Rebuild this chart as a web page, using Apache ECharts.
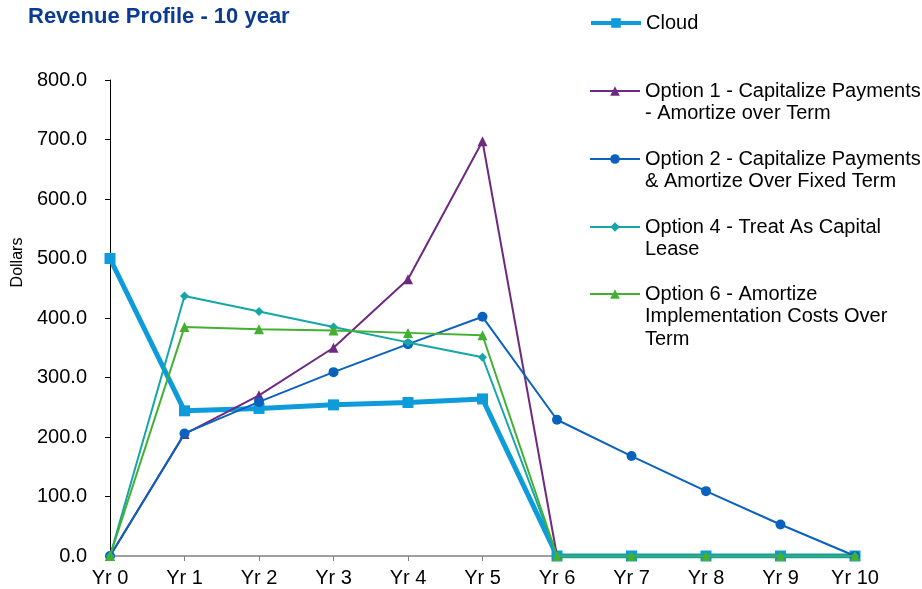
<!DOCTYPE html>
<html>
<head>
<meta charset="utf-8">
<title>Revenue Profile - 10 year</title>
<script src="https://cdn.jsdelivr.net/npm/echarts@6/dist/echarts.min.js"></script>
<style>
  html, body { margin: 0; padding: 0; background: #fff; }
  #chart { width: 922px; height: 589px; }
</style>
</head>
<body>
<div id="chart"></div>
<script>
// Years on the horizontal axis
const categories = ['Yr 0', 'Yr 1', 'Yr 2', 'Yr 3', 'Yr 4', 'Yr 5', 'Yr 6', 'Yr 7', 'Yr 8', 'Yr 9', 'Yr 10'];

// Revenue per year (dollars) for each accounting treatment
const cloud   = [500, 244, 248, 254, 258, 264, 0, 0, 0, 0, 0];
const option1 = [0, 205, 270, 350, 465, 697, 0, 0, 0, 0, 0];
const option2 = [0, 206, 259, 309, 356, 402, 229, 168, 109, 53, 0];
const option4 = [0, 437, 411, 385, 359, 334, 0, 0, 0, 0, 0];
const option6 = [0, 385, 381, 379, 375, 371, 0, 0, 0, 0, 0];

// Series names as shown in the legend (line breaks wrap the long ones)
const seriesNames = [
  'Cloud',
  'Option 1 - Capitalize Payments\n- Amortize over Term',
  'Option 2 - Capitalize Payments\n& Amortize Over Fixed Term',
  'Option 4 - Treat As Capital\nLease',
  'Option 6 - Amortize\nImplementation Costs Over\nTerm'
];

const FONT = 'Liberation Sans, Arial, sans-serif';
const LINE_H = 22.5;

const styles = [
  { color: '#0E9BDA', width: 5, legendWidth: 4, symbol: 'rect',     size: 11 },
  { color: '#6E2A80', width: 2, legendWidth: 2, symbol: 'triangle', size: 10 },
  { color: '#0A62BE', width: 2, legendWidth: 2, symbol: 'circle',   size: 10 },
  { color: '#14A6A8', width: 2, legendWidth: 2, symbol: 'diamond',  size: 9 },
  { color: '#44B032', width: 2, legendWidth: 2, symbol: 'triangle', size: 10 }
];
const values = [cloud, option1, option2, option4, option6];

// One legend block per series; the icon lines up with the first text line.
// Blank lines above keep the first line in the middle of the text block.
const legendIconCenters = [23, 91, 159, 227, 294];
const legends = seriesNames.map((name, i) => {
  const lines = name.split('\n').length;
  const label = '\n'.repeat(lines - 1) + name;
  const boxH = (2 * lines - 1) * LINE_H;
  return {
    data: [{ name: name, lineStyle: { width: styles[i].legendWidth } }],
    formatter: () => label,
    left: 589,
    top: legendIconCenters[i] - boxH / 2,
    padding: 0,
    itemWidth: 50,
    itemHeight: 12,
    itemGap: 0,
    selectedMode: false,
    textStyle: {
      fontFamily: FONT,
      fontSize: 20,
      color: '#000',
      lineHeight: LINE_H
    }
  };
});

const series = seriesNames.map((name, i) => ({
  name: name,
  type: 'line',
  data: values[i],
  symbol: styles[i].symbol,
  symbolSize: styles[i].size,
  showSymbol: true,
  color: styles[i].color,
  lineStyle: { width: styles[i].width, color: styles[i].color },
  itemStyle: { color: styles[i].color },
  emphasis: { disabled: true },
  animation: false,
  z: 2 + i
}));

const chart = echarts.init(document.getElementById('chart'), null, { renderer: 'canvas' });
chart.setOption({
  backgroundColor: '#fff',
  animation: false,
  title: {
    text: 'Revenue Profile - 10 year',
    left: 28,
    top: 6,
    padding: 0,
    textStyle: { fontFamily: FONT, fontSize: 22, fontWeight: 'bold', color: '#0B3C91' }
  },
  legend: legends,
  grid: { left: 110, right: 67, top: 80, bottom: 33, containLabel: false },
  xAxis: {
    type: 'category',
    data: categories,
    boundaryGap: false,
    axisLine: { lineStyle: { color: '#808080', width: 1.5 } },
    axisTick: { show: true, length: 5, alignWithLabel: true, lineStyle: { color: '#808080' } },
    axisLabel: { fontFamily: FONT, fontSize: 20, color: '#000', margin: 12 },
    splitLine: { show: false }
  },
  yAxis: {
    type: 'value',
    min: 0,
    max: 800,
    interval: 100,
    name: 'Dollars',
    nameLocation: 'middle',
    nameGap: 78,
    nameRotate: 90,
    nameTextStyle: {
      fontFamily: FONT,
      fontSize: 16, color: '#000', padding: [0, 0, 0, 111]
    },
    axisLine: { show: true, lineStyle: { color: '#000', width: 1 } },
    axisTick: { show: true, length: 5, inside: false, lineStyle: { color: '#000' } },
    axisLabel: { fontFamily: FONT, fontSize: 20, color: '#000', margin: 23, formatter: v => v.toFixed(1) },
    splitLine: { show: false }
  },
  series: series
});
</script>
</body>
</html>
